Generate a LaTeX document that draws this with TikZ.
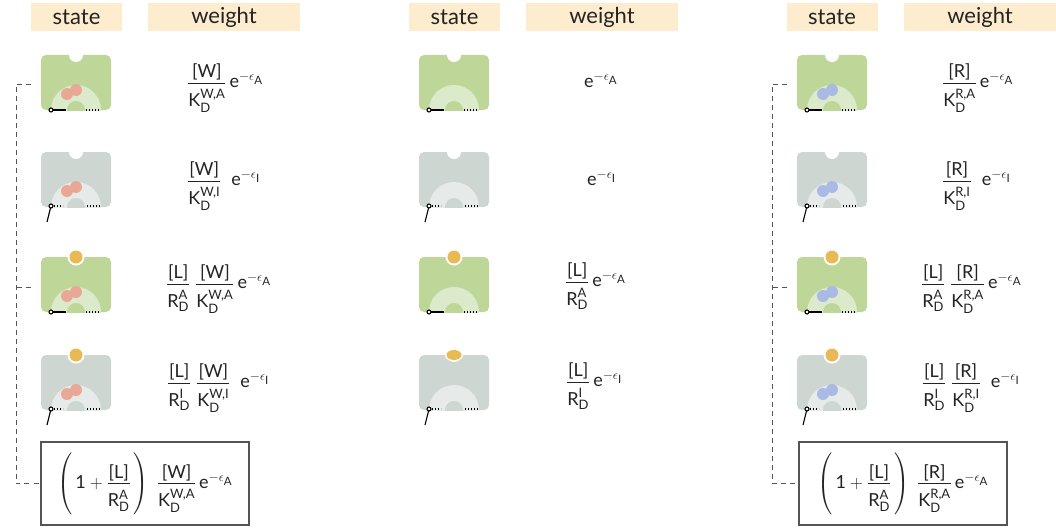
\RequirePackage{fix-cm}
\documentclass[tikz,border=0pt]{standalone}
\usepackage{amsmath}
\usepackage{fontspec}
\setmainfont{Lato}
\DeclareMathSizes{18}{18}{13}{11.5}
\usetikzlibrary{calc}

\definecolor{Abase}{RGB}{190,215,153}
\definecolor{Alight}{RGB}{220,234,204}
\definecolor{Ibase}{RGB}{206,214,210}
\definecolor{Ilight}{RGB}{230,235,233}
\definecolor{wcol}{RGB}{233,168,150}
\definecolor{rcol}{RGB}{170,186,228}
\definecolor{lcol}{RGB}{233,185,84}
\definecolor{headcol}{RGB}{253,236,206}
\definecolor{linecol}{RGB}{85,85,85}
\definecolor{inkcol}{RGB}{35,35,35}

\tikzset{
  headbox/.style={fill=headcol, text=inkcol, minimum height=28pt, inner sep=0pt, font=\fontsize{22}{26}\selectfont},
  icon/.style={minimum width=70pt, minimum height=55pt, rounded corners=5pt, inner sep=0pt, outer sep=0pt},
  hinge/.style={line width=1.1pt, black},
  dots/.style={hinge, dash pattern=on 1.1pt off 1.9pt},
  weight/.style={anchor=base west, inner sep=0pt, text=inkcol, font=\fontsize{18}{22}\selectfont},
  sumbox/.style={draw=linecol, line width=1.2pt, minimum width=208pt, minimum height=83pt, inner sep=0pt, text=inkcol, font=\fontsize{18}{22}\selectfont},
  bracket/.style={linecol, line width=1pt, dash pattern=on 5pt off 4pt}
}

\def\statehead{\node[headbox, minimum width=91pt]}
\def\weighthead{\node[headbox, minimum width=152pt]}

% receptor body: name, centre, A or I
\newcommand{\receptor}[3]{%
  \node[icon, fill=#3base] (#1) at (#2) {};
  \begin{scope}
    \clip (#1.south west) rectangle (#1.north east);
    \fill[#3light] (#1.south) circle[radius=25];
    \fill[#3base] (#1.south) circle[radius=9];
  \end{scope}
  \fill[white] (#1.north) circle[radius=7];
  \csname hinge#3\endcsname{#1}}

% gate closed (active) and swung open (inactive)
\newcommand{\hingeA}[1]{%
  \draw[hinge] ($(#1.south west)+(10,0)$) -- ++(15,0);
  \draw[dots] ($(#1.south west)+(45,0)$) -- ++(14,0);
  \draw[hinge, fill=white] ($(#1.south west)+(10,0)$) circle[radius=2];}
\newcommand{\hingeI}[1]{%
  \draw[hinge] ($(#1.south west)+(10,-1)$) -- ++(-4,16);
  \draw[dots] ($(#1.south west)+(13,-1)$) -- ++(9,0);
  \draw[dots] ($(#1.south west)+(46,-1)$) -- ++(13,0);
  \draw[hinge, fill=white] ($(#1.south west)+(10,-1)$) circle[radius=2];}

\newcommand{\ligand}[1]{%
  \fill[white] (#1.north) circle[radius=8.5];
  \fill[lcol] (#1.north) circle[radius=6.5];}
\newcommand{\dimer}[2]{%
  \fill[#2] ($(#1.north west)+(26,39)$) circle[radius=6]
            ($(#1.north west)+(35,35)$) circle[radius=6];}

% fraction with the looser spacing of the weights
\newcommand{\fr}[2]{\dfrac{\raisebox{-4.5pt}{#1}}{\rule{0pt}{21pt}#2}}
\newcommand{\KD}[1]{\text{K}_{\text{D}}^{\text{#1}}}
\newcommand{\RD}[1]{\text{R}_{\text{D}}^{\text{#1}}}
\newcommand{\boltz}[1]{\text{e}^{-\epsilon_{\text{#1}}}}
\newcommand{\tallstrut}{\rule[-26pt]{0pt}{52pt}}

\begin{document}
\begin{tikzpicture}[x=1pt, y=-1pt]
\useasboundingbox (0,0) rectangle (1056,527);

% column headers
\statehead (hs1) at (76.5,17) {state};
\weighthead (hw1) at (224,17) {weight};
\statehead (hs2) at (454.5,17) {state};
\weighthead (hw2) at (602,17) {weight};
\statehead (hs3) at (832,17) {state};
\weighthead (hw3) at (980,17) {weight};

% left column: W bound
\receptor{w1}{76,82.5}{A} \dimer{w1}{wcol}
\receptor{w2}{76,179.5}{I} \dimer{w2}{wcol}
\receptor{w3}{76,284.5}{A} \dimer{w3}{wcol} \ligand{w3}
\receptor{w4}{76,382.5}{I} \dimer{w4}{wcol} \ligand{w4}

\node[weight] (ww1) at (187,87.5) {$\fr{[W]}{\KD{W,A}}\,\boltz{A}$};
\node[weight] (ww2) at (187,185.5) {$\fr{[W]}{\KD{W,I}}\;\;\boltz{I}$};
\node[weight] (ww3) at (166,288.5) {$\fr{[L]}{\RD{A}}\;\fr{[W]}{\KD{W,A}}\,\boltz{A}$};
\node[weight] (ww4) at (167,387.5) {$\fr{[L]}{\RD{I}}\;\fr{[W]}{\KD{W,I}}\;\;\boltz{I}$};

\node[sumbox] (sumw) at (145,483.5) {$\left(\tallstrut\,\text{1}+\fr{[L]}{\RD{A}}\,\right)\;\fr{[W]}{\KD{W,A}}\,\boltz{A}$};

\draw[bracket] ($(w1.west)+(-10,1.5)$) -- ++(-15,0) |- (sumw.west);
\draw[bracket] ($(w3.west)+(-10,2.5)$) -- ++(-15,0);

% middle column: empty pocket
\receptor{e1}{454,82.5}{A}
\receptor{e2}{454,179.5}{I}
\receptor{e3}{454,284.5}{A} \ligand{e3}
\receptor{e4}{454,382.5}{I}
\fill[white] (e4.north) ellipse[x radius=9, y radius=6.5];
\fill[lcol] (e4.north) ellipse[x radius=7.5, y radius=5];

\node[weight] (we1) at (584,87.5) {$\boltz{A}$};
\node[weight] (we2) at (587,185.5) {$\boltz{I}$};
\node[weight] (we3) at (565,286.5) {$\fr{[L]}{\RD{A}}\,\boltz{A}$};
\node[weight] (we4) at (566,386.5) {$\fr{[L]}{\RD{I}}\,\boltz{I}$};

% right column: R bound
\receptor{r1}{832,82.5}{A} \dimer{r1}{rcol}
\receptor{r2}{832,179.5}{I} \dimer{r2}{rcol}
\receptor{r3}{832,284.5}{A} \dimer{r3}{rcol} \ligand{r3}
\receptor{r4}{832,382.5}{I} \dimer{r4}{rcol} \ligand{r4}

\node[weight] (wr1) at (942,87.5) {$\fr{[R]}{\KD{R,A}}\,\boltz{A}$};
\node[weight] (wr2) at (942,185.5) {$\fr{[R]}{\KD{R,I}}\;\;\boltz{I}$};
\node[weight] (wr3) at (921,288.5) {$\fr{[L]}{\RD{A}}\;\fr{[R]}{\KD{R,A}}\,\boltz{A}$};
\node[weight] (wr4) at (922,387.5) {$\fr{[L]}{\RD{I}}\;\fr{[R]}{\KD{R,I}}\;\;\boltz{I}$};

\node[sumbox] (sumr) at (903,483.5) {$\left(\tallstrut\,\text{1}+\fr{[L]}{\RD{A}}\,\right)\;\fr{[R]}{\KD{R,A}}\,\boltz{A}$};

\draw[bracket] ($(r1.west)+(-10,1.5)$) -- ++(-15,0) |- (sumr.west);
\draw[bracket] ($(r3.west)+(-10,2.5)$) -- ++(-15,0);
\end{tikzpicture}
\end{document}
